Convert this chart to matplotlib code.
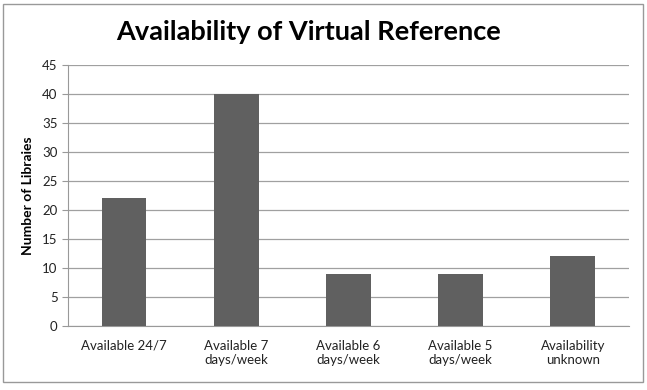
import matplotlib.pyplot as plt
from matplotlib.patches import Rectangle

categories = ["Available 24/7", "Available 7\ndays/week", "Available 6\ndays/week",
              "Available 5\ndays/week", "Availability\nunknown"]
counts = [22, 40, 9, 9, 12]
yticks = list(range(0, 50, 5))

plt.rcParams['font.family'] = ['Lato', 'DejaVu Sans']

fig = plt.figure(figsize=(6.47, 3.9), dpi=100)
ax = fig.add_axes([0.105, 0.164, 0.867, 0.669])

x = list(range(len(categories)))
ax.bar(x, counts, width=0.4, color="#606060", zorder=3)

ax.set_xlim(-0.5, len(categories) - 0.5)
ax.set_ylim(0, 45)
ax.set_yticks(yticks)
ax.set_xticks(x)
ax.set_xticklabels(categories, fontsize=9.5, color="#222222")
ax.tick_params(axis="y", labelsize=9.5, colors="#222222", length=4, color="#999999")
ax.tick_params(axis="x", length=0, pad=10)
ax.grid(axis="y", color="#a0a0a0", linewidth=0.9, zorder=0)

for s in ["top", "right"]:
    ax.spines[s].set_visible(False)
for s in ["left", "bottom"]:
    ax.spines[s].set_color("#999999")

ax.set_ylabel("Number of Libraies", fontsize=10, fontweight="bold", labelpad=6)
fig.text(0.477, 0.918, "Availability of Virtual Reference", ha="center", va="center",
         fontsize=19.5, fontweight="bold")

fig.patches.append(Rectangle((0.004, 0.02), 0.99, 0.97, transform=fig.transFigure,
                             fill=False, edgecolor="#999999", linewidth=1))

fig.savefig("out.png", dpi=100)
